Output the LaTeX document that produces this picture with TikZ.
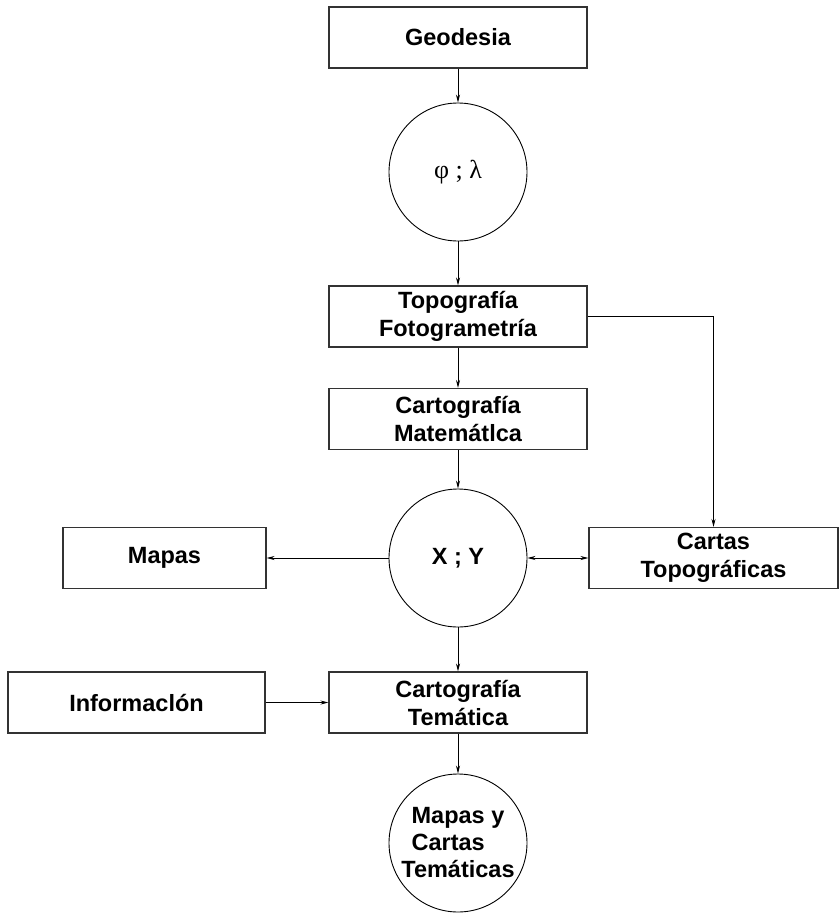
\documentclass[tikz,border=0pt]{standalone}
\usepackage{fontspec}
\setmainfont{Liberation Sans}
\newfontfamily\greekfont{Liberation Serif}
\usetikzlibrary{arrows.meta,positioning}

\begin{document}
\begin{tikzpicture}[
    x=1pt, y=-1pt,
    >={Stealth[length=8pt,width=4pt]},
    block/.style={rectangle, draw=black!80, line width=1.1pt, minimum height=61pt,
                  minimum width=258pt, inner sep=0pt, align=center,
                  font=\fontsize{23.5}{28}\selectfont\bfseries},
    circ/.style={circle, draw=black, line width=0.9pt, minimum size=138pt,
                 inner sep=0pt, align=center,
                 font=\fontsize{23.5}{27}\selectfont\bfseries},
    arr/.style={->, line width=0.8pt}
]
    \useasboundingbox (0,0) rectangle (840,913);

    \node[block] (geo)  at (458,37.5)  {Geodesia};
    \node[circ, font=\fontsize{26}{30}\selectfont\greekfont] (phi) at (458,172) {φ ; λ};
    \node[block] (topo) at (458,316.5) {Topografía\\Fotogrametría};
    \node[block] (cmat) at (458,419)   {Cartografía\\Matemátlca};
    \node[circ]  (xy)   at (458,558)   {X ; Y};
    \node[block, minimum width=203pt] (mapas)  at (164.5,558) {Mapas};
    \node[block, minimum width=249pt] (cartas) at (713.5,558) {Cartas\\Topográficas};
    \node[block, minimum width=257pt] (info)   at (136.5,702.5) {Informaclón};
    \node[block] (ctem) at (458,702.5) {Cartografía\\Temática};
    \node[circ]  (fin)  at (458,843)   {Mapas y\\Cartas\hphantom{ y}\\Temáticas};

    \draw[arr] (geo)  -- (phi);
    \draw[arr] (phi)  -- (topo);
    \draw[arr] (topo) -- (cmat);
    \draw[arr] (topo.east) -| (cartas.north);
    \draw[arr] (cmat) -- (xy);
    \draw[arr] (xy)   -- (mapas);
    \draw[<->, line width=0.8pt] (xy) -- (cartas);
    \draw[arr] (xy)   -- (ctem);
    \draw[arr] (info) -- (ctem);
    \draw[arr] (ctem) -- (fin);
\end{tikzpicture}
\end{document}
